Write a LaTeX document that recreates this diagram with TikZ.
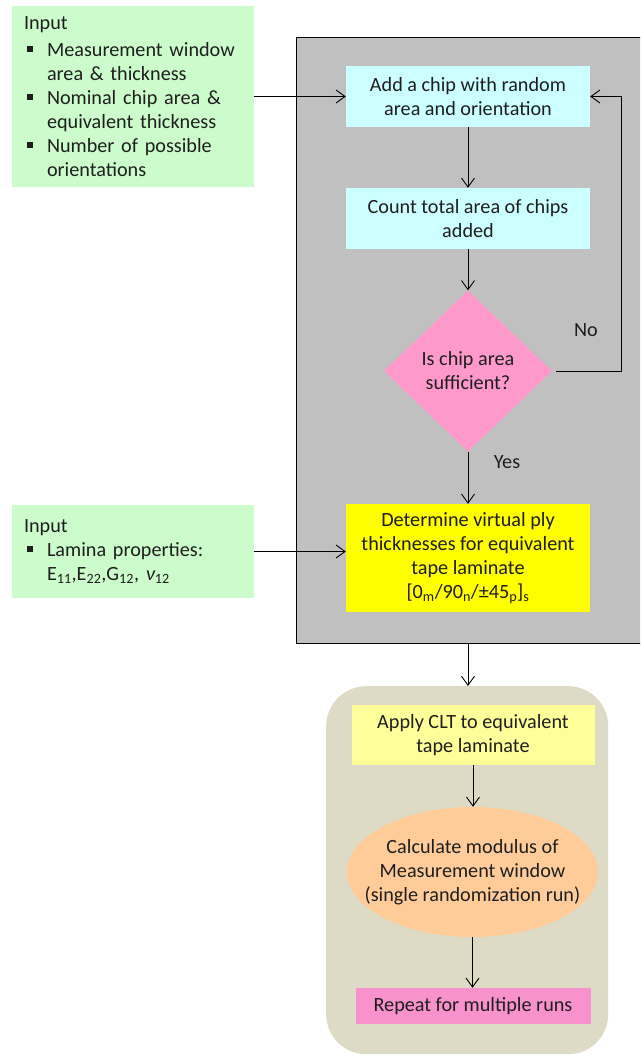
\documentclass[tikz,border=0pt]{standalone}
\usepackage{fontspec}
\setmainfont{Carlito}
\usetikzlibrary{arrows.meta,shapes.geometric}
\definecolor{ingreen}{HTML}{CCFCCC}
\definecolor{boxgray}{HTML}{C0C0C0}
\definecolor{lcyan}{HTML}{CCFFFF}
\definecolor{dpink}{HTML}{FF99CC}
\definecolor{rpink}{HTML}{F792CC}
\definecolor{yel}{HTML}{FFFF00}
\definecolor{lyel}{HTML}{FFFF99}
\definecolor{tan}{HTML}{DDDAC6}
\definecolor{peach}{HTML}{FFCC99}
\definecolor{txt}{HTML}{1E1E1E}
\newcommand{\bul}{\makebox[23pt][l]{\hspace{3pt}\rule[4pt]{6pt}{6pt}}}
\newcommand{\ind}{\hspace*{23pt}}
\begin{document}
\begin{tikzpicture}[x=1pt,y=-1pt,
  font=\fontsize{20.2}{24}\selectfont,
  every node/.style={text=txt},
  inbox/.style={rectangle, fill=ingreen, minimum width=242pt, text width=218pt, inner xsep=12pt, inner ysep=0pt, align=left},
  proc/.style={rectangle, minimum width=244pt, inner sep=0pt, align=center},
  arr/.style={-{Straight Barb[length=9pt,width=13pt]}, line width=0.9pt, draw=black}]
\useasboundingbox (0,0) rectangle (640,1057);
\clip (0,0) rectangle (640,1057);
\fill[white] (0,0) rectangle (640,1057);

% gray container
\node[rectangle, draw=black, line width=1pt, fill=boxgray, anchor=north west, minimum width=360pt, minimum height=606pt] (G) at (296,37) {};

% inputs
\node[inbox, minimum height=181pt] (in1) at (133,96.5) {Input\\[3pt]
\bul Measurement window\\
\ind area \& thickness\\
\bul Nominal chip area \&\\
\ind equivalent thickness\\
\bul Number of possible\\
\ind orientations};
\node[inbox, minimum height=93pt] (in2) at (133,551.5) {Input\\
\bul Lamina properties:\\
\ind E\textsubscript{11},E\textsubscript{22},G\textsubscript{12}, {\itshape ν}\textsubscript{12}\\[4pt]};

% loop
\node[proc, fill=lcyan, minimum height=61pt] (A) at (468,96.5) {Add a chip with random\\area and orientation};
\node[proc, fill=lcyan, minimum height=61pt] (B) at (468,218.5) {Count total area of chips\\added};
\node[diamond, fill=dpink, minimum width=168pt, minimum height=161pt, inner sep=0pt, align=center] (D) at (468,371) {Is chip area\\sufficient?};
\node[proc, fill=yel, minimum height=108pt] (Y) at (468,558) {Determine virtual ply\\thicknesses for equivalent\\tape laminate\\{}[0\textsubscript{m}/90\textsubscript{n}/±45\textsubscript{p}]\textsubscript{s}};
\node (yes) at (507,462) {Yes};
\node (no) at (586,330) {No};
\coordinate (nk) at (621,0);

% lower part
\node[rectangle, fill=tan, rounded corners=40pt, anchor=north west, minimum width=282pt, minimum height=368pt] (R) at (326,686) {};
\node[proc, fill=lyel, minimum width=243pt, minimum height=60pt] (C) at (473,735) {Apply CLT to equivalent\\tape laminate};
\node[ellipse, fill=peach, minimum width=251pt, minimum height=130pt, inner xsep=-22pt, inner ysep=0pt, align=center] (E) at (472.5,872) {Calculate modulus of\\Measurement window\\(single randomization run)};
\node[proc, fill=rpink, minimum width=235pt, minimum height=36pt] (P) at (473,1006) {Repeat for multiple runs};

% connectors
\draw[arr] (in1.east) -- (A.west);
\draw[arr] (in2.east) -- (in2.east -| Y.west);
\draw[arr] (A.south) -- (B.north);
\draw[arr] (B.south) -- (D.north);
\draw[arr] (D.south) -- (Y.north);
\draw[arr, shorten <=4pt] (D.east) -- (D.east -| nk) -- (nk |- A.east) -- (A.east);
\draw[arr] (G.south -| Y.south) -- (Y.south |- R.north);
\draw[arr] (C.south) -- (C.south |- E.north);
\draw[arr] (E.south) -- (E.south |- P.north);
\end{tikzpicture}
\end{document}
